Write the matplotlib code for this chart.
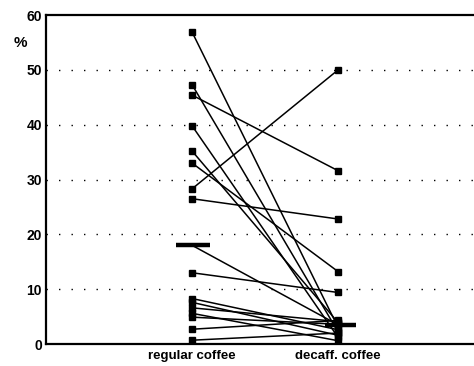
import numpy as np
import matplotlib.pyplot as plt

groups = ['regular coffee', 'decaff. coffee']

# one value per subject, paired: regular -> decaff
regular = [56.9, 47.3, 45.4, 39.8, 35.2, 33.0, 28.3, 26.5, 13.0,
           8.3, 7.6, 6.6, 5.6, 4.9, 2.7, 0.7]
decaff = [3.0, 2.2, 31.6, 1.2, 3.9, 13.2, 50.0, 22.8, 9.4,
          2.6, 1.6, 4.1, 0.6, 3.6, 4.3, 2.0]

regular_mean = 18.0
decaff_mean = 3.5

yticks = [0, 10, 20, 30, 40, 50, 60]

plt.rcParams['font.family'] = ['Liberation Sans', 'DejaVu Sans']

fig = plt.figure(figsize=(4.74, 3.66), dpi=100)
ax = fig.add_axes([0.097, 0.060, 0.903, 0.899])

x = [1, 2]
for r, d in zip(regular, decaff):
    ax.plot(x, [r, d], color='black', linewidth=1.1, marker='s',
            markersize=5, markerfacecolor='black', markeredgecolor='black',
            zorder=3)

# group means
ax.plot(x, [regular_mean, decaff_mean], color='black', linewidth=1.1, zorder=3)
ax.hlines([regular_mean, decaff_mean], [0.89, 1.91], [1.12, 2.12],
          color='black', linewidth=3.2, zorder=4)

ax.set_xlim(0, 2.93)
ax.set_ylim(0, 60)
ax.set_yticks(yticks)
ax.set_yticklabels([str(t) for t in yticks], fontsize=10, fontweight='bold')
ax.set_xticks(x)
ax.set_xticklabels(groups, fontsize=9.5, fontweight='bold')
ax.tick_params(axis='both', length=0, pad=3)
ax.tick_params(axis='x', pad=4)

for t in yticks[1:-1]:
    ax.axhline(t, color='black', linewidth=1.0, linestyle=(0, (1, 8)), zorder=1)

ax.spines['right'].set_visible(False)
for s in ['left', 'top', 'bottom']:
    ax.spines[s].set_linewidth(1.6)

ax.text(-0.075, 0.915, '%', transform=ax.transAxes, fontsize=11,
        fontweight='bold', ha='left', va='center')

fig.savefig('out.png', dpi=100)
